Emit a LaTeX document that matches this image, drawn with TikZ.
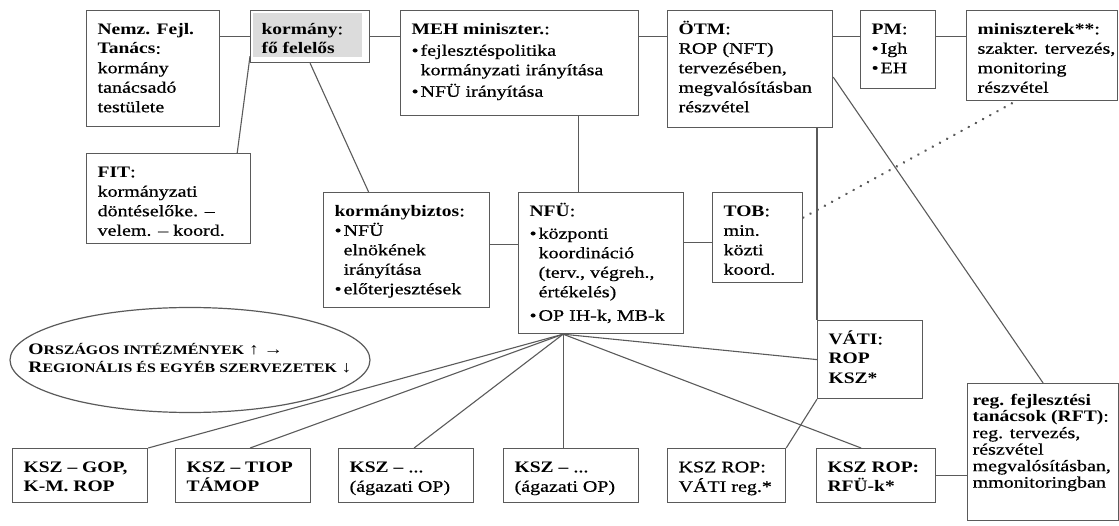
\documentclass[tikz,border=0pt]{standalone}
\usepackage{fontspec}
\setmainfont{Liberation Serif}[FakeStretch=1.25, UprightFeatures={FakeBold=0.6}, BoldFeatures={FakeStretch=1.22}]
\usetikzlibrary{shapes.geometric, calc}
\definecolor{boxline}{HTML}{5A5A5A}
\definecolor{boxshade}{HTML}{DCDCDC}
\newcommand{\boxtext}[3]{\parbox[c][\dimexpr#2-20pt\relax][t]{\dimexpr#1-22pt\relax}{\begin{tabular}[t]{@{}l@{}}#3\end{tabular}}}
\newcommand{\bul}{\makebox[9pt][l]{\textbullet}}
\newcommand{\ind}{\hspace*{9pt}}
\newcommand{\scap}[1]{{\fontsize{13}{15}\selectfont\MakeUppercase{#1}}}

\begin{document}
\begin{tikzpicture}[x=1pt, y=-1pt,
    orgbox/.style={draw=boxline, line width=1.2pt, anchor=north west,
                   inner xsep=11pt, inner ysep=10pt, font=\fontsize{16}{19.5}\selectfont},
    link/.style={draw=boxline, line width=1.1pt},
    dotlink/.style={draw=boxline, line width=2.6pt, dash pattern=on 0.2pt off 8pt, line cap=round}
]
\useasboundingbox (0,0) rectangle (1119,526);

% top row
\node[orgbox] (nemz) at (86,10)  {\boxtext{133pt}{116pt}{\textbf{Nemz. Fejl.}\\ \textbf{Tanács}:\\ kormány\\ tanácsadó\\ testülete}};
\node[orgbox, path picture={\fill[boxshade] ([shift={(2pt,-2pt)}]path picture bounding box.north west)
      rectangle ([shift={(-8pt,6pt)}]path picture bounding box.south east);}]
      (korm) at (250,10) {\boxtext{119pt}{52pt}{\textbf{kormány}:\\ \textbf{fő felelős}}};
\node[orgbox] (meh)  at (400,10) {\boxtext{238pt}{105pt}{\textbf{MEH miniszter.}:\\[2pt] \bul fejlesztéspolitika\\ \ind kormányzati irányítása\\[2pt] \bul NFÜ irányítása}};
\node[orgbox] (otm)  at (667,10) {\boxtext{165pt}{117pt}{\textbf{ÖTM}:\\ ROP (NFT)\\ tervezésében,\\ megvalósításban\\ részvétel}};
\node[orgbox] (pm)   at (860,10) {\boxtext{75pt}{78pt}{\textbf{PM}:\\ \bul Igh\\ \bul EH}};
\node[orgbox] (mini) at (966,10) {\boxtext{151pt}{90pt}{\textbf{miniszterek**}:\\ szakter. tervezés,\\ monitoring\\ részvétel}};

% middle
\node[orgbox] (fit)  at (86,153)  {\boxtext{164pt}{90pt}{\textbf{FIT}:\\ kormányzati\\ döntéselőke. –\\ velem. – koord.}};
\node[orgbox] (kbiz) at (323,192) {\boxtext{166pt}{115pt}{\textbf{kormánybiztos}:\\ \bul NFÜ\\ \ind elnökének\\ \ind irányítása\\ \bul előterjesztések}};
\node[orgbox] (nfu)  at (518,192) {\boxtext{165pt}{141pt}{\textbf{NFÜ}:\\[3pt] \bul központi\\ \ind koordináció\\ \ind (terv., végreh.,\\ \ind értékelés)\\[4pt] \bul OP IH-k, MB-k}};
\node[orgbox] (tob)  at (712,192) {\boxtext{90pt}{90pt}{\textbf{TOB}:\\ min.\\ közti\\ koord.}};
\node[orgbox] (vati) at (817,320) {\boxtext{105pt}{78pt}{\textbf{VÁTI}:\\ \textbf{ROP}\\ \textbf{KSZ*}}};
\node[orgbox, inner xsep=5pt, font=\fontsize{16}{16.5}\selectfont] (rft) at (967,383) {\boxtext{163pt}{137pt}{\textbf{reg. fejlesztési}\\ \textbf{tanácsok (RFT)}:\\ reg. tervezés,\\ részvétel\\ megvalósításban,\\ mmonitoringban}};

\node[ellipse, draw=boxline, line width=1.2pt, minimum width=360pt, minimum height=105pt, inner sep=0pt,
      font=\fontsize{16}{18}\selectfont\bfseries] (orsz) at (190,360)
      {\makebox[0pt]{\begin{tabular}{@{}l@{}}O\scap{rszágos intézmények} ↑ →\\ R\scap{egionális és egyéb szervezetek} ↓\end{tabular}}};

% bottom row
\node[orgbox] (gop)  at (12,448)  {\boxtext{135pt}{54pt}{\textbf{KSZ – GOP,}\\ \textbf{K-M. ROP}}};
\node[orgbox] (tiop) at (175,448) {\boxtext{135pt}{54pt}{\textbf{KSZ – TIOP}\\ \textbf{TÁMOP}}};
\node[orgbox] (ksz3) at (338,448) {\boxtext{135pt}{54pt}{\textbf{KSZ –} ...\\ (ágazati OP)}};
\node[orgbox] (ksz4) at (503,448) {\boxtext{135pt}{54pt}{\textbf{KSZ –} ...\\ (ágazati OP)}};
\node[orgbox] (kszv) at (667,448) {\boxtext{118pt}{54pt}{KSZ ROP:\\ VÁTI reg.*}};
\node[orgbox] (kszr) at (816,448) {\boxtext{119pt}{54pt}{\textbf{KSZ ROP:}\\ \textbf{RFÜ-k*}}};

% connectors
\draw[link] (korm.west) -- (korm.west -| nemz.east);
\draw[link] (korm.east) -- (korm.east -| meh.west);
\draw[link] (korm.east -| meh.east) -- (korm.east -| otm.west);
\draw[link] (korm.east -| otm.east) -- (korm.east -| pm.west);
\draw[link] (korm.east -| pm.east) -- (korm.east -| mini.west);
\draw[link] ([xshift=-14pt]fit.north east) -- ([yshift=7pt]korm.south west);
\draw[link] (korm.south) -- ([xshift=-38pt]kbiz.north);
\draw[link] ([xshift=-23pt]nfu.north) -- ([xshift=-23pt]nfu.north |- meh.south);
\draw[link] ([yshift=6pt]kbiz.east) -- ([yshift=6pt]kbiz.east -| nfu.west);
\draw[link] ([yshift=-5pt]tob.west) -- ([yshift=-5pt]tob.west -| nfu.east);
\draw[link] (vati.north west) -- (vati.north west |- otm.south);
\draw[link] ([yshift=-8pt]otm.east) -- (rft.north);
\draw[dotlink] ([yshift=20pt]tob.east) -- (mini.-120);

\coordinate (fan) at ([xshift=-38pt]nfu.south);
\draw[link] (fan) -- (gop.north east);
\draw[link] (fan) -- ([xshift=7pt]tiop.north);
\draw[link] (fan) -- ([xshift=8pt]ksz3.north);
\draw[link] (fan) -- (fan |- ksz4.north);
\draw[link] (fan) -- (vati.west);
\draw[link] (fan) -- ([xshift=-15pt]kszr.north);
\draw[link] (vati.south west) -- (kszv.north east);
\draw[link] (kszr.east) -- (kszr.east -| rft.west);
\end{tikzpicture}
\end{document}
